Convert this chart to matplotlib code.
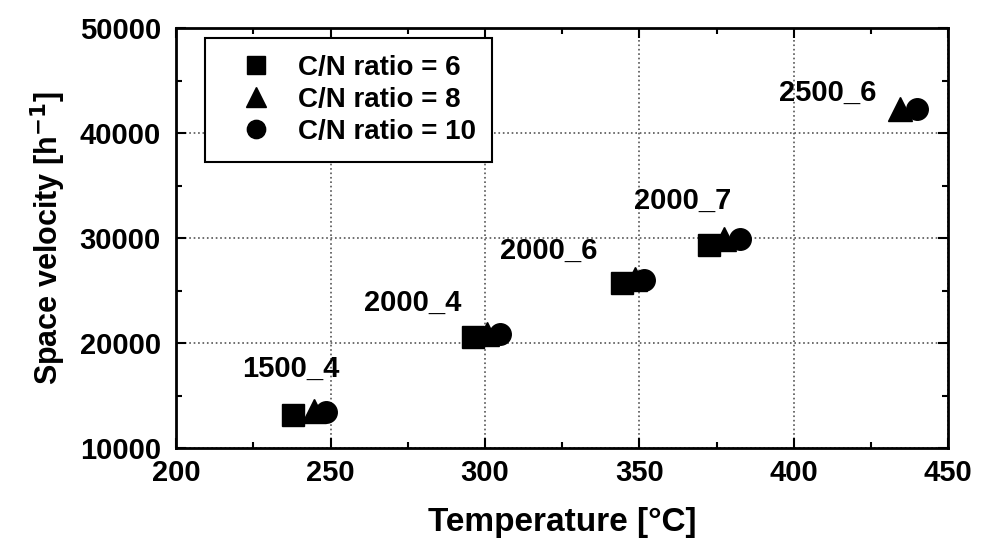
import matplotlib
matplotlib.use("Agg")
import matplotlib.pyplot as plt
from matplotlib.ticker import MultipleLocator

plt.rcParams['font.family'] = ['Liberation Sans', 'DejaVu Sans']
plt.rcParams['font.weight'] = 'bold'

# Data
temp_cn6 = [238, 296, 344.5, 372.5]
sv_cn6 = [13200, 20550, 25750, 29400]
temp_cn8 = [244.5, 300.5, 348.5, 377.5, 434.5]
sv_cn8 = [13500, 20900, 26100, 29950, 42350]
temp_cn10 = [248.5, 305, 351.5, 382.5, 440]
sv_cn10 = [13450, 20900, 26050, 29950, 42350]
group_labels = ['1500_4', '2000_4', '2000_6', '2000_7', '2500_6']
label_x = [237, 276.5, 320.5, 364, 411]
label_y = [17600, 23800, 28800, 33600, 43850]

fig = plt.figure(figsize=(9.95, 5.42), dpi=100)
ax = fig.add_axes([0.177, 0.173, 0.776, 0.775])

ax.plot(temp_cn6, sv_cn6, 's', color='black', markersize=16, label='C/N ratio = 6', linestyle='none')
ax.plot(temp_cn8, sv_cn8, '^', color='black', markersize=17, label='C/N ratio = 8', linestyle='none')
ax.plot(temp_cn10, sv_cn10, 'o', color='black', markersize=15.5, label='C/N ratio = 10', linestyle='none')

for lx, ly, t in zip(label_x, label_y, group_labels):
    ax.text(lx, ly, t, ha='center', va='center', fontsize=21, fontweight='bold')

ax.set_xlim(200, 450)
ax.set_ylim(10000, 50000)
ax.xaxis.set_major_locator(MultipleLocator(50))
ax.xaxis.set_minor_locator(MultipleLocator(25))
ax.yaxis.set_major_locator(MultipleLocator(10000))
ax.yaxis.set_minor_locator(MultipleLocator(5000))
ax.tick_params(which='both', direction='in', top=True, right=True, width=1.5)
ax.tick_params(which='major', length=7, labelsize=21)
ax.tick_params(axis='x', which='major', pad=8)
ax.tick_params(axis='y', which='major', pad=11)
ax.tick_params(which='minor', length=4)
for lab in ax.get_xticklabels() + ax.get_yticklabels():
    lab.set_fontweight('bold')
for s in ax.spines.values():
    s.set_linewidth(2)

ax.grid(True, which='major', linestyle=':', color='#555555', linewidth=1.2)

ax.set_xlabel('Temperature [°C]', fontsize=24, fontweight='bold', labelpad=14)
ax.set_ylabel('Space velocity [h$^{\\mathbf{-1}}$]', fontsize=22, fontweight='bold', labelpad=8)

leg = ax.legend(loc='upper left', bbox_to_anchor=(0.037, 0.976), borderaxespad=0,
                fontsize=20, frameon=True,
                fancybox=False, edgecolor='black', framealpha=1, borderpad=0.6,
                handlelength=2.5, handletextpad=0.25, labelspacing=0.22, markerscale=0.85)
leg.get_frame().set_linewidth(1.5)
for t in leg.get_texts():
    t.set_fontweight('bold')

fig.savefig('out.png', dpi=100)
